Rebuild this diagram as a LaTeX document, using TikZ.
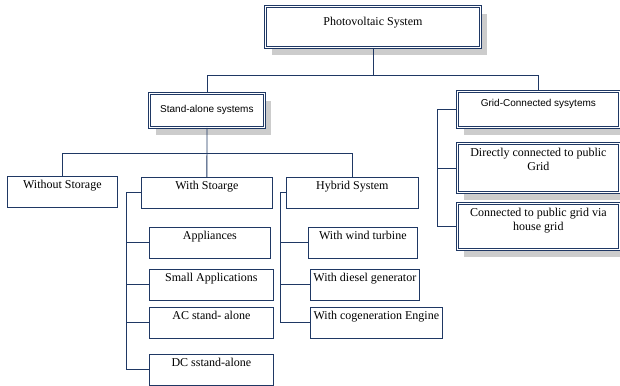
\documentclass[tikz,border=0pt]{standalone}
\usepackage{fontspec}
\setmainfont{Liberation Serif}
\newfontfamily\pvsans{Liberation Sans}
\usepackage{xcolor}
\definecolor{pvnavy}{RGB}{31,56,100}
\definecolor{pvshade}{RGB}{204,204,204}
\newcommand\pvserif{\fontsize{12}{14.5}\selectfont}
\newcommand\pvsanssm{\pvsans\fontsize{10}{12}\selectfont}
\usetikzlibrary{positioning,shadows}

\begin{document}
\begin{tikzpicture}[x=1pt,y=-1pt,
  wire/.style={draw=pvnavy,line width=0.8pt},
  leaf/.style={draw=pvnavy,fill=white,line width=0.7pt,anchor=north west,inner sep=0pt,font=\pvserif,align=center,text height=12pt,text depth=18.5pt},
  head/.style={leaf,line width=0.8pt,double=white,double distance=0.8pt,drop shadow={shadow xshift=7pt,shadow yshift=-8pt,fill=pvshade,opacity=1}}]
  \useasboundingbox (0,0) rectangle (620,385);
  \node[head,minimum width=215pt,text height=19pt,text depth=22pt] (pv) at (265,6) {Photovoltaic System};
  \node[head,minimum width=115pt,font=\pvsanssm,text height=19.5pt,text depth=14.5pt] (sa) at (149,93) {Stand-alone systems};
  \node[head,minimum width=162pt,font=\pvsanssm,text height=15.5pt,text depth=20.5pt] (gc) at (457,91) {Grid-Connected sysytems};
  \node[head,minimum width=162pt,text height=27.5pt,text depth=21.5pt] (dc) at (457,143) {Directly connected to public\\Grid};
  \node[head,minimum width=162pt,text height=27.5pt,text depth=18.5pt] (cv) at (457,203) {Connected to public grid via\\house grid};
  \node[leaf,minimum width=110pt] (ws) at (7,176) {Without Storage};
  \node[leaf,minimum width=131pt] (wst) at (141,177) {With Stoarge};
  \node[leaf,minimum width=132pt] (hy) at (286,177) {Hybrid System};
  \node[leaf,minimum width=121pt] (ap) at (149,227) {Appliances};
  \node[leaf,minimum width=124pt] (sm) at (149,269) {Small Applications};
  \node[leaf,minimum width=124pt] (ac) at (149,307) {AC stand- alone};
  \node[leaf,minimum width=124pt] (ds) at (149,354) {DC sstand-alone};
  \node[leaf,minimum width=109pt] (wt) at (308,227) {With wind turbine};
  \node[leaf,minimum width=109pt] (dg) at (310,269) {With diesel generator};
  \node[leaf,minimum width=132pt] (ce) at (310,307) {With cogeneration Engine};
  \draw[wire] (pv.south) -- ++(0,28) coordinate (topbus);
  \draw[wire] (sa.north) |- (topbus) -| (gc.north);
  \draw[wire] (sa.south) -- ++(0,26) coordinate (sabus) -- (wst.north);
  \draw[wire] (ws.north) |- (sabus) -| (hy.north);
  \coordinate (wsrail) at (126,0);
  \coordinate (hyrail) at (280,0);
  \coordinate (gcrail) at (437,0);
  \draw[wire] (wst.west) -| (wsrail |- ds.west) -- (ds.west);
  \draw[wire] (hy.west) -| (hyrail |- ce.west) -- (ce.west);
  \draw[wire] (gc.west) -| (gcrail |- cv.west) -- (cv.west);
  \foreach \n in {ap,sm,ac} \draw[wire] (\n.west) -- (\n.west -| wsrail);
  \foreach \n in {wt,dg} \draw[wire] (\n.west) -- (\n.west -| hyrail);
  \draw[wire] (dc.west) -- (dc.west -| gcrail);
\end{tikzpicture}
\end{document}
